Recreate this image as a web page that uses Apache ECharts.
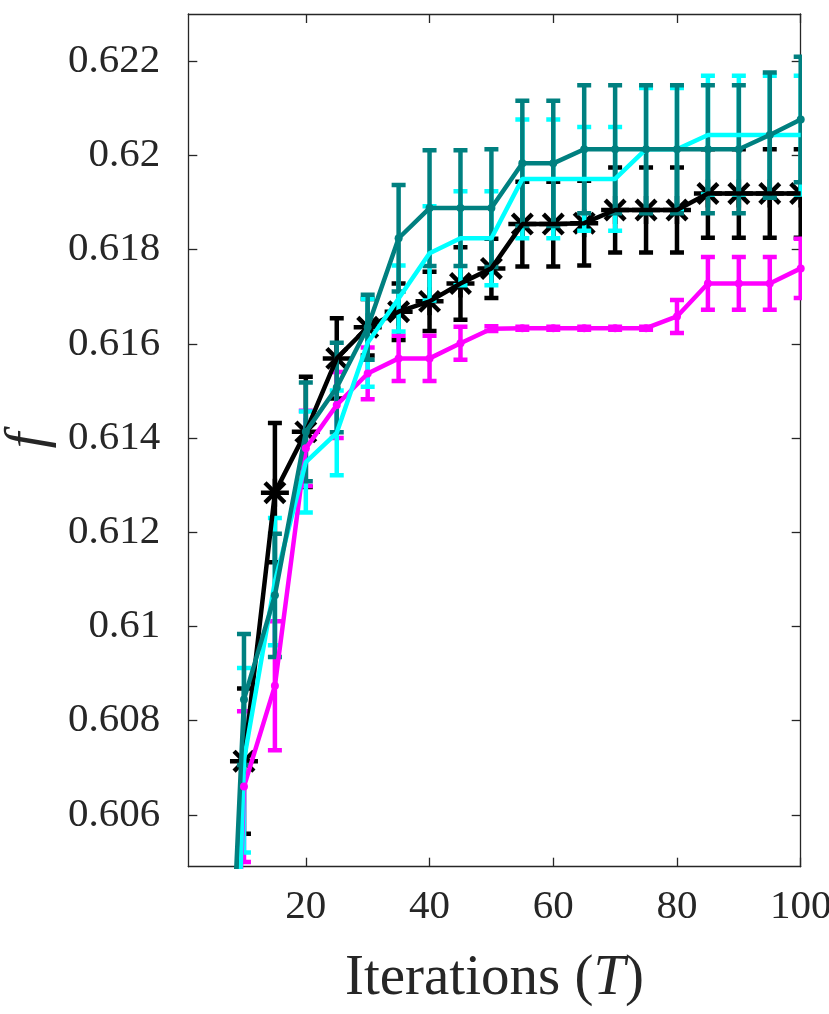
<!DOCTYPE html>
<html>
<head>
<meta charset="utf-8">
<script src="https://cdn.jsdelivr.net/npm/echarts@6/dist/echarts.min.js"></script>
<style>
  html, body, #main { width: 100%; height: 100%; margin: 0; background: #fff; }
</style>
</head>
<body>
<div id="main"></div>
<script>
// iterations
var iters = [5, 10, 15, 20, 25, 30, 35, 40, 45, 50, 55, 60, 65, 70, 75, 80, 85, 90, 95, 100];

// black (asterisks)
var blackMean = [0.592, 0.60714, 0.61284, 0.61413, 0.61569, 0.61635, 0.61668, 0.6169, 0.61728, 0.6176,
  0.61854, 0.61854, 0.61856, 0.61884, 0.61884, 0.61884, 0.61919, 0.61919, 0.61919, 0.61919];
var blackErr = [0, 0.00154, 0.00148, 0.00117, 0.00085, 0.0006, 0.0006, 0.00063, 0.00077, 0.00063,
  0.0009, 0.0009, 0.0009, 0.0009, 0.0009, 0.0009, 0.00094, 0.00094, 0.00094, 0.00094];

// magenta
var magMean = [0.588, 0.6066, 0.60874, 0.61378, 0.6147, 0.61537, 0.61569, 0.61569, 0.61601, 0.61632,
  0.61633, 0.61633, 0.61633, 0.61633, 0.61633, 0.61658, 0.61728, 0.61728, 0.61728, 0.6176];
var magErr = [0, 0.0016, 0.00137, 0.0008, 0.0007, 0.00055, 0.00048, 0.00048, 0.00035, 0.00005,
  0.00003, 0.00003, 0.00003, 0.00003, 0.00003, 0.00035, 0.00056, 0.00056, 0.00056, 0.00063];

// cyan
var cyanMean = [0.586, 0.60716, 0.61095, 0.61349, 0.61411, 0.61602, 0.61696, 0.61792, 0.61824, 0.61824,
  0.6195, 0.6195, 0.6195, 0.6195, 0.62013, 0.62013, 0.62043, 0.62043, 0.62043, 0.62043];
var cyanErr = [0, 0.00196, 0.00135, 0.00107, 0.0009, 0.00093, 0.0007, 0.001, 0.001, 0.001,
  0.00126, 0.00126, 0.0011, 0.0011, 0.0013, 0.0013, 0.00126, 0.00126, 0.00126, 0.00126];

// teal
var tealMean = [0.594, 0.60845, 0.61066, 0.61413, 0.61507, 0.61635, 0.61824, 0.61888, 0.61888, 0.61888,
  0.61983, 0.61983, 0.62013, 0.62013, 0.62013, 0.62013, 0.62013, 0.62013, 0.62043, 0.62076];
var tealErr = [0, 0.00139, 0.00131, 0.00105, 0.00095, 0.00069, 0.00113, 0.00123, 0.00123, 0.00125,
  0.00133, 0.00133, 0.00136, 0.00136, 0.00136, 0.00136, 0.00136, 0.00136, 0.00133, 0.00133];

var xTicks = [20, 40, 60, 80, 100];
var yTicks = [0.606, 0.608, 0.61, 0.612, 0.614, 0.616, 0.618, 0.62, 0.622];

var axisColor = '#262626';
var font = '"Liberation Serif", "Times New Roman", serif';

function pairs(mean) {
  return iters.map(function (x, i) { return [x, mean[i]]; });
}
function triples(mean, err) {
  return iters.map(function (x, i) { return [x, mean[i], err[i]]; });
}

function errRender(color, star) {
  return function (params, api) {
    var x = api.value(0), m = api.value(1), e = api.value(2);
    if (!e) return null;
    var top = api.coord([x, m + e]);
    var bot = api.coord([x, m - e]);
    var cw = 7;
    var st = { stroke: color, lineWidth: 4.5 };
    var kids = [
      { type: 'line', shape: { x1: top[0], y1: top[1], x2: bot[0], y2: bot[1] }, style: st },
      { type: 'line', shape: { x1: top[0] - cw, y1: top[1], x2: top[0] + cw, y2: top[1] }, style: st },
      { type: 'line', shape: { x1: bot[0] - cw, y1: bot[1], x2: bot[0] + cw, y2: bot[1] }, style: st }
    ];
    if (star) {
      var c = api.coord([x, m]);
      var r = 14;
      for (var k = 0; k < 4; k++) {
        var a = k * Math.PI / 4;
        kids.push({ type: 'line', shape: { x1: c[0] - r * Math.cos(a), y1: c[1] - r * Math.sin(a),
          x2: c[0] + r * Math.cos(a), y2: c[1] + r * Math.sin(a) }, style: { stroke: color, lineWidth: 4.5 } });
      }
    }
    return { type: 'group', children: kids };
  };
}

function errSeries(mean, err, color, star) {
  return { type: 'custom', renderItem: errRender(color, star), data: triples(mean, err),
    clip: true, silent: true, z: 2 };
}
function lineSeries(mean, color, marker) {
  return { type: 'line', data: pairs(mean), clip: true, silent: true, z: 2,
    showSymbol: !!marker, symbol: 'circle', symbolSize: 8,
    itemStyle: { color: color }, lineStyle: { color: color, width: 4.5 } };
}

var chart = echarts.init(document.getElementById('main'));

var option = {
  animation: false,
  grid: { left: 188.3, right: 28.3, top: 14, bottom: 147.3, outerBoundsMode: 'none', containLabel: false },
  xAxis: [{
    type: 'value', min: 1, max: 100,
    name: '{a|Iterations (}{b|T}{a|)}', nameLocation: 'middle', nameGap: 84,
    nameTextStyle: { rich: {
      a: { fontFamily: font, fontSize: 57, color: axisColor },
      b: { fontFamily: font, fontSize: 57, fontStyle: 'italic', color: axisColor }
    } },
    axisLine: { lineStyle: { color: axisColor, width: 1.3 } },
    axisTick: { inside: true, length: 9, customValues: xTicks, lineStyle: { color: axisColor, width: 1.3 } },
    axisLabel: { customValues: xTicks, margin: 20, fontFamily: font, fontSize: 41, color: axisColor },
    splitLine: { show: false }
  }, {
    type: 'value', min: 1, max: 100, position: 'top',
    axisLine: { onZero: false, lineStyle: { color: axisColor, width: 1.3 } },
    axisTick: { inside: true, length: 9, customValues: xTicks, lineStyle: { color: axisColor, width: 1.3 } },
    axisLabel: { show: false }, splitLine: { show: false }
  }],
  yAxis: [{
    type: 'value', min: 0.6049, max: 0.623,
    name: 'f', nameLocation: 'middle', nameGap: 128, nameRotate: 90,
    nameTextStyle: { fontFamily: font, fontSize: 56, fontStyle: 'italic', color: axisColor },
    axisLine: { lineStyle: { color: axisColor, width: 1.3 } },
    axisTick: { inside: true, length: 9, customValues: yTicks, lineStyle: { color: axisColor, width: 1.3 } },
    axisLabel: { customValues: yTicks, margin: 28, fontFamily: font, fontSize: 41, color: axisColor,
      formatter: function (v) { return String(+v.toFixed(3)); } },
    splitLine: { show: false }
  }, {
    type: 'value', min: 0.6049, max: 0.623, position: 'right',
    axisLine: { show: true, onZero: false, lineStyle: { color: axisColor, width: 1.3 } },
    axisTick: { inside: true, length: 9, customValues: yTicks, lineStyle: { color: axisColor, width: 1.3 } },
    axisLabel: { show: false }, splitLine: { show: false }
  }],
  series: [
    errSeries(blackMean, blackErr, '#000000', true),
    lineSeries(blackMean, '#000000', false),
    errSeries(magMean, magErr, '#ff00ff', false),
    lineSeries(magMean, '#ff00ff', true),
    errSeries(cyanMean, cyanErr, '#00ffff', false),
    lineSeries(cyanMean, '#00ffff', false),
    errSeries(tealMean, tealErr, '#008080', false),
    lineSeries(tealMean, '#008080', true)
  ]
};
chart.setOption(option);
</script>
</body>
</html>
